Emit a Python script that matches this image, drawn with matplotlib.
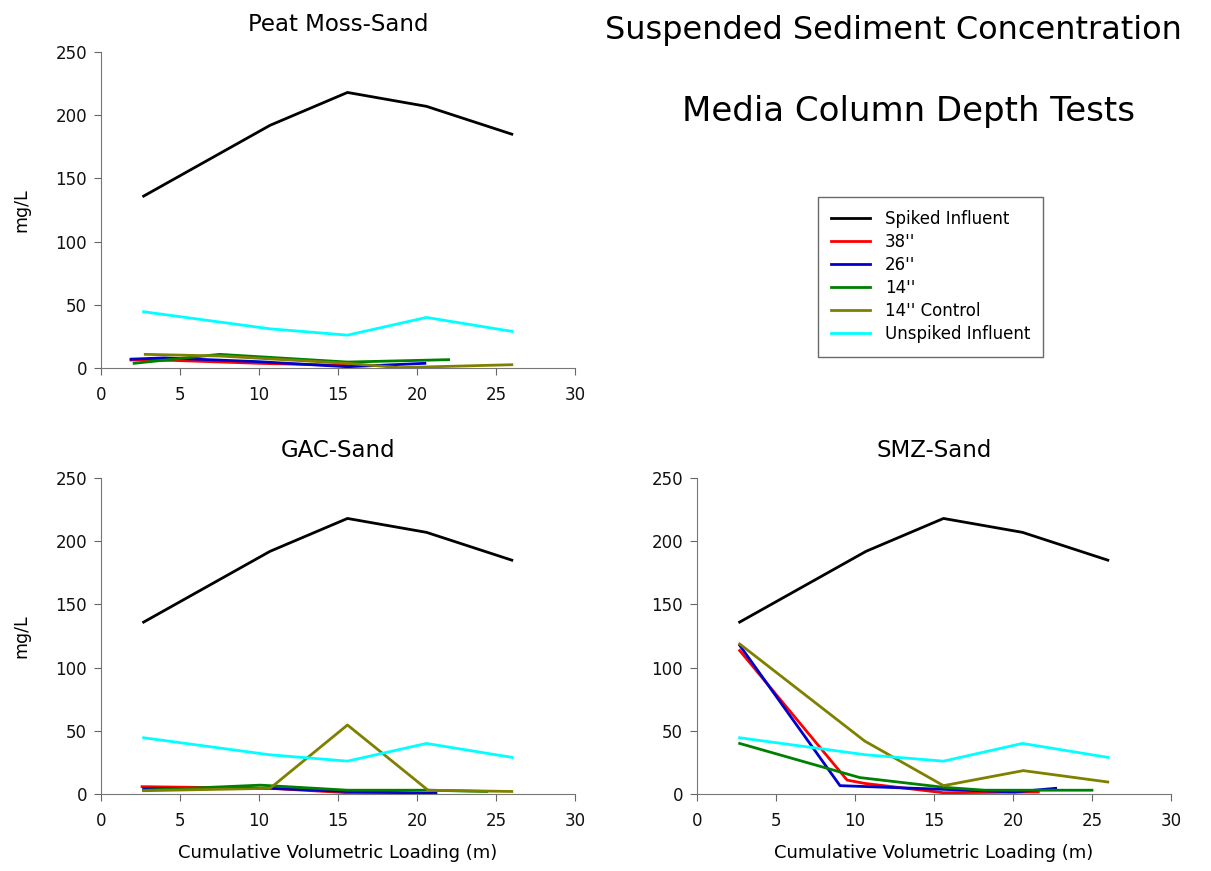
import matplotlib
matplotlib.use("Agg")
import matplotlib.pyplot as plt

plt.rcParams['font.family'] = ['DejaVu Sans']

# ---- data ----
series_names = ["Spiked Influent", "38''", "26''", "14''", "14'' Control", "Unspiked Influent"]
series_colors = ["#000000", "#ff0000", "#0000cc", "#008000", "#808000", "#00ffff"]

influent_x = [2.7, 10.7, 15.6, 20.6, 26.0]
spiked_y = [136, 192, 218, 207, 185]
unspiked_y = [44.5, 31, 26, 40, 29]

# Peat Moss-Sand
peat_38_x = [1.9, 4.6, 10.0, 15.6, 18.0]
peat_38_y = [6.3, 6.0, 3.7, 2.0, 2.0]
peat_26_x = [1.9, 4.0, 10.0, 15.6, 20.5]
peat_26_y = [7.0, 8.0, 5.0, 1.0, 3.7]
peat_14_x = [2.1, 7.5, 15.6, 22.0]
peat_14_y = [3.7, 10.8, 4.7, 6.6]
peat_14c_x = [2.8, 7.5, 15.6, 18.9, 26.0]
peat_14c_y = [10.8, 9.5, 3.7, 0.3, 2.6]

# GAC-Sand
gac_38_x = [2.6, 10.7, 15.6, 21.0]
gac_38_y = [5.8, 4.5, 1.0, 0.0]
gac_26_x = [2.7, 10.7, 15.6, 21.2]
gac_26_y = [4.0, 4.5, 2.0, 0.5]
gac_14_x = [2.7, 10.1, 15.6, 20.7, 24.4]
gac_14_y = [3.0, 7.0, 3.0, 3.0, 2.0]
gac_14c_x = [2.7, 10.7, 15.6, 20.7, 26.0]
gac_14c_y = [2.6, 4.5, 54.6, 3.0, 2.0]

# SMZ-Sand
smz_38_x = [2.7, 9.5, 10.6, 15.6, 21.6]
smz_38_y = [113.5, 11.0, 8.4, 1.0, 1.6]
smz_26_x = [2.7, 9.05, 15.6, 20.1, 22.7]
smz_26_y = [117.7, 6.6, 3.7, 1.6, 4.5]
smz_14_x = [2.7, 10.3, 15.6, 18.2, 25.0]
smz_14_y = [40.0, 13.0, 5.3, 3.0, 3.0]
smz_14c_x = [2.7, 10.6, 15.6, 20.65, 26.0]
smz_14c_y = [118.7, 42.0, 6.6, 18.5, 9.5]

panels = {
    "Peat Moss-Sand": [(peat_38_x, peat_38_y), (peat_26_x, peat_26_y),
                        (peat_14_x, peat_14_y), (peat_14c_x, peat_14c_y)],
    "GAC-Sand": [(gac_38_x, gac_38_y), (gac_26_x, gac_26_y),
                 (gac_14_x, gac_14_y), (gac_14c_x, gac_14c_y)],
    "SMZ-Sand": [(smz_38_x, smz_38_y), (smz_26_x, smz_26_y),
                 (smz_14_x, smz_14_y), (smz_14c_x, smz_14c_y)],
}

x_ticks = [0, 5, 10, 15, 20, 25, 30]
y_ticks = [0, 50, 100, 150, 200, 250]

fig = plt.figure(figsize=(12.11, 8.71), dpi=100)
W, H = 1211, 871
def rect(l, r, t, b):
    return [l / W, (H - b) / H, (r - l) / W, (b - t) / H]

axes = {
    "Peat Moss-Sand": fig.add_axes(rect(101, 575, 52, 368)),
    "GAC-Sand": fig.add_axes(rect(101, 575, 478, 794)),
    "SMZ-Sand": fig.add_axes(rect(697, 1171, 478, 794)),
}

lw = 2.0
leg_handles = None
for name, ax in axes.items():
    handles = []
    h, = ax.plot(influent_x, spiked_y, color=series_colors[0], lw=lw, label=series_names[0])
    handles.append(h)
    for i, (xs, ys) in enumerate(panels[name]):
        h, = ax.plot(xs, ys, color=series_colors[i + 1], lw=lw, label=series_names[i + 1])
        handles.append(h)
    h, = ax.plot(influent_x, unspiked_y, color=series_colors[5], lw=lw, label=series_names[5])
    handles.append(h)
    ax.set_xlim(0, 30)
    ax.set_ylim(0, 250)
    ax.set_xticks(x_ticks)
    ax.set_yticks(y_ticks)
    ax.tick_params(axis='both', labelsize=12, direction='out', length=5,
                   color='#666666', labelcolor='#111111')
    ax.tick_params(axis='x', pad=8)
    ax.tick_params(axis='y', pad=5)
    for s in ['top', 'right']:
        ax.spines[s].set_visible(False)
    for s in ['left', 'bottom']:
        ax.spines[s].set_color('#777777')
    ax.set_title(name, fontsize=16.5, pad=15)
    if name != "SMZ-Sand":
        ax.set_ylabel("mg/L", fontsize=12.5, labelpad=18)
    if name != "Peat Moss-Sand":
        ax.set_xlabel("Cumulative Volumetric Loading (m)", fontsize=13, labelpad=10)
    if leg_handles is None:
        leg_handles = handles

fig.text(893 / W, 1 - 30 / H, "Suspended Sediment Concentration", fontsize=23,
         ha='center', va='center')
fig.text(908 / W, 1 - 112 / H, "Media Column Depth Tests", fontsize=24.5,
         ha='center', va='center')

leg = fig.legend(handles=leg_handles, loc='upper left',
                 bbox_to_anchor=(818 / W, 1 - 197 / H), borderaxespad=0,
                 fontsize=12, frameon=True, fancybox=False, edgecolor='#444444',
                 handlelength=2.3, handletextpad=0.9, borderpad=0.8,
                 labelspacing=0.3)
leg.get_frame().set_linewidth(1.0)

fig.savefig("out.png", dpi=100)
